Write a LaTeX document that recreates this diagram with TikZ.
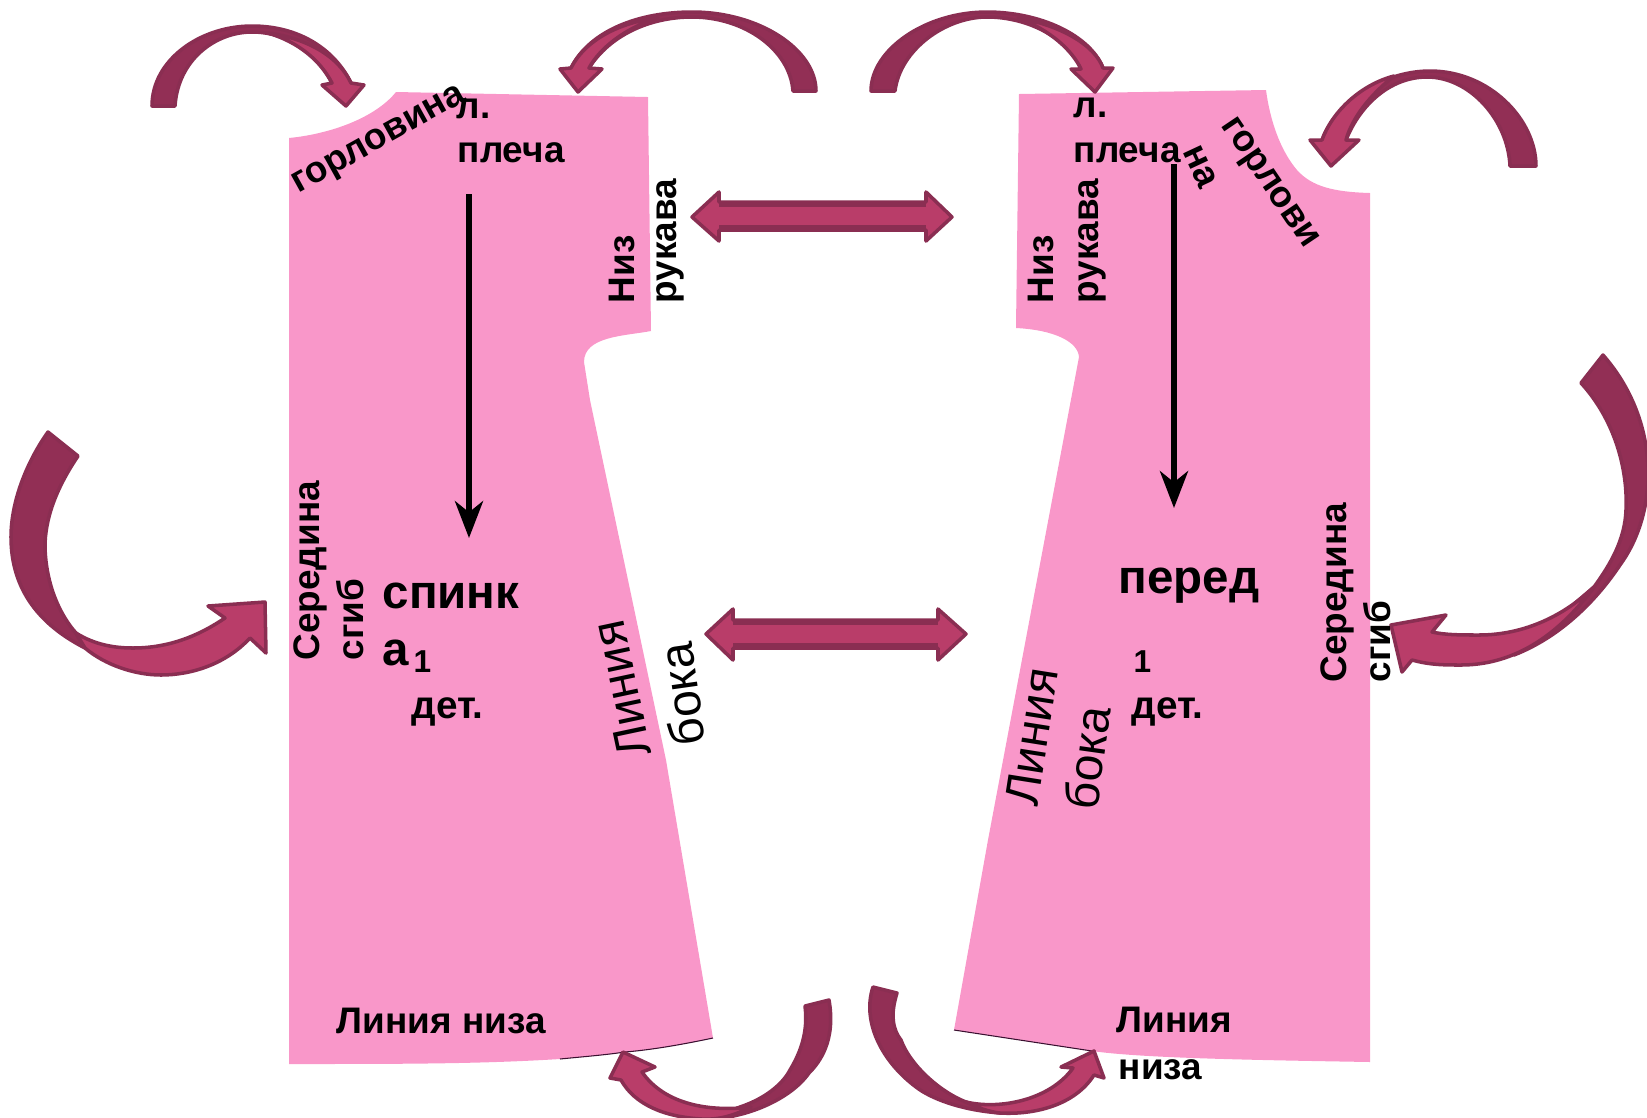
\documentclass[tikz,border=0pt]{standalone}
\usepackage{fontspec}
\setmainfont{Liberation Sans}
\usetikzlibrary{arrows.meta}

\definecolor{paperpink}{HTML}{F997C9}
\definecolor{bentdark}{HTML}{922F55}
\definecolor{bentlight}{HTML}{B93D69}
\definecolor{bentedge}{HTML}{8A2E52}
\definecolor{cutedge}{HTML}{3A1030}

\tikzset{
  lbl/.style={inner sep=0pt, anchor=base west, font=\bfseries\fontsize{10.5}{12}\selectfont},
  lblmid/.style={lbl, font=\bfseries\fontsize{11}{13}\selectfont},
  lblbig/.style={lbl, font=\bfseries\fontsize{13.5}{15}\selectfont},
  lblsmall/.style={lbl, font=\bfseries\fontsize{9}{10}\selectfont},
  lblthin/.style={lbl, font=\fontsize{13.7}{15}\selectfont},
  paper/.style={fill=paperpink},
  bentback/.style={fill=bentdark, draw=bentedge, line width=1pt, line join=round},
  bentfront/.style={fill=bentlight, draw=bentedge, line width=1pt, line join=round},
  stripe/.style={fill=bentedge},
  grainline/.style={line width=1.55pt, -{Stealth[length=10.5pt,width=8pt,inset=3.2pt]}},
}

\begin{document}
\begin{tikzpicture}[x=0.01cm, y=-0.01cm]
  \useasboundingbox (0,0) rectangle (1647,1117);
  \clip (0,0) rectangle (1647,1117);

  % back piece
  \fill[paper] (289,138) .. controls (330,134) and (375,118) .. (396,92) -- (648,97)
    -- (651,331) .. controls (625,336) and (584,336) .. (584,362)
    -- (590,400) -- (666,760) -- (713,1038)
    .. controls (680,1045) and (650,1050) .. (625,1052) .. controls (605,1055) and (580,1057) .. (560,1059)
    .. controls (480,1064) and (400,1064) .. (289,1064) -- cycle;
  \draw[cutedge, line width=0.3pt] (713,1038) .. controls (680,1045) and (650,1050) .. (625,1052)
    .. controls (605,1055) and (580,1057) .. (560,1059);

  % front piece
  \fill[paper] (1019,94) -- (1266,90) .. controls (1270,120) and (1280,150) .. (1297,170)
    .. controls (1312,187) and (1335,192) .. (1370,193) -- (1370,1062)
    .. controls (1250,1060) and (1140,1058) .. (1092,1051) -- (954,1030)
    -- (988,840) -- (1079,357) .. controls (1078,342) and (1055,330) .. (1016,328) -- cycle;
  \draw[cutedge, line width=0.3pt] (954,1030) -- (1092,1051);

  % top left
  \draw[bentback] (152,106) .. controls (152,60) and (200,26) .. (252,26)
    .. controls (300,26) and (335,50) .. (351,83) -- (332,83)
    .. controls (315,50) and (285,32) .. (252,32) .. controls (215,32) and (178,60) .. (175,106) -- cycle;
  \draw[bentfront] (268,33) .. controls (305,38) and (338,55) .. (351,83) -- (364,85) -- (346,106) -- (322,85) -- (332,83)
    .. controls (320,60) and (298,42) .. (268,33) -- cycle;

  % top middle left
  \draw[bentback] (816,91) .. controls (816,50) and (760,12) .. (692,12)
    .. controls (640,12) and (590,30) .. (571,68) -- (589,68)
    .. controls (610,35) and (650,17) .. (692,17) .. controls (745,17) and (790,50) .. (793,91) -- cycle;
  \draw[bentfront] (658,18) .. controls (620,22) and (585,40) .. (571,68) -- (560,69) -- (578,92) -- (602,69) -- (589,68)
    .. controls (600,48) and (625,28) .. (658,18) -- cycle;

  % top middle right
  \draw[bentback] (871,91) .. controls (871,50) and (925,12) .. (987,12)
    .. controls (1040,12) and (1090,35) .. (1103,68) -- (1081,69)
    .. controls (1070,40) and (1030,17) .. (987,17) .. controls (945,17) and (900,50) .. (895,91) -- cycle;
  \draw[bentfront] (1018,18) .. controls (1060,25) and (1095,45) .. (1103,68) -- (1113,68) -- (1095,92) -- (1071,69) -- (1081,69)
    .. controls (1072,50) and (1050,30) .. (1018,18) -- cycle;

  % top right
  \draw[bentback] (1536,166) .. controls (1536,120) and (1490,71) .. (1430,71)
    .. controls (1380,71) and (1335,105) .. (1322,140) -- (1346,140)
    .. controls (1360,105) and (1390,77) .. (1427,77) .. controls (1470,77) and (1508,120) .. (1510,166) -- cycle;
  \draw[bentfront] (1394,76) .. controls (1360,85) and (1332,112) .. (1322,140) -- (1310,140) -- (1331,166) -- (1359,140) -- (1346,140)
    .. controls (1352,118) and (1370,95) .. (1394,76) -- cycle;

  % left big
  \draw[bentback] (48,432) -- (78,456) .. controls (55,490) and (45,520) .. (45,547)
    .. controls (46,585) and (60,615) .. (76,633) -- (85,648)
    .. controls (40,625) and (11,590) .. (11,537) .. controls (11,500) and (28,460) .. (48,432) -- cycle;
  \draw[bentfront] (76,633) .. controls (95,645) and (115,648) .. (133,648)
    .. controls (170,648) and (200,635) .. (225,618) -- (208,606) -- (265,602) -- (266,653) -- (250,638)
    .. controls (225,665) and (190,675) .. (161,675) .. controls (135,675) and (105,665) .. (85,648) -- cycle;

  % right big
  \draw[bentback] (1603,355) -- (1581,383) .. controls (1615,420) and (1628,470) .. (1626,510)
    .. controls (1625,540) and (1610,565) .. (1594,587) -- (1514,655)
    .. controls (1565,635) and (1600,595) .. (1620,565) .. controls (1660,510) and (1660,420) .. (1603,355) -- cycle;
  \draw[bentfront] (1594,587) .. controls (1565,615) and (1525,635) .. (1479,635)
    .. controls (1462,635) and (1445,635) .. (1432,632) -- (1446,615) -- (1391,625) -- (1402,672) -- (1412,660)
    .. controls (1430,665) and (1445,665) .. (1461,665) .. controls (1510,665) and (1555,640) .. (1594,587) -- cycle;

  % bottom left
  \draw[bentback] (805,1006) -- (829,1000) .. controls (836,1040) and (820,1062) .. (809,1073)
    .. controls (790,1100) and (745,1118) .. (709,1119) -- (740,1107)
    .. controls (770,1097) and (785,1080) .. (790,1070) .. controls (802,1050) and (808,1030) .. (805,1006) -- cycle;
  \draw[bentfront] (751,1107) .. controls (710,1112) and (665,1105) .. (642,1072) -- (655,1067) -- (623,1052) -- (610,1078) -- (621,1080)
    .. controls (635,1105) and (665,1117) .. (702,1119) .. controls (720,1120) and (735,1115) .. (751,1107) -- cycle;

  % bottom right
  \draw[bentback] (873,987) -- (897,993) .. controls (890,1015) and (893,1030) .. (901,1040)
    .. controls (910,1065) and (940,1092) .. (966,1102) -- (1000,1113)
    .. controls (960,1110) and (930,1098) .. (916,1087) .. controls (880,1060) and (862,1020) .. (873,987) -- cycle;
  \draw[bentfront] (966,1102) .. controls (1000,1110) and (1050,1100) .. (1073,1068) -- (1061,1067) -- (1094,1051) -- (1104,1078) -- (1094,1075)
    .. controls (1075,1105) and (1035,1115) .. (1000,1113) .. controls (990,1112) and (978,1108) .. (966,1102) -- cycle;

  % straight arrows in the middle
  \draw[bentfront] (692,217) -- (719,192) -- (719,202) -- (926,202) -- (926,192) -- (952,217)
    -- (926,241) -- (926,230) -- (719,230) -- (719,241) -- cycle;
  \fill[stripe] (719,202) rectangle (926,207);
  \fill[stripe] (719,225) rectangle (926,230);
  \draw[bentfront] (706,634) -- (733,609) -- (733,620) -- (938,620) -- (938,609) -- (966,634)
    -- (938,660) -- (938,648) -- (733,648) -- (733,660) -- cycle;
  \fill[stripe] (733,620) rectangle (938,625);
  \fill[stripe] (733,643) rectangle (938,648);

  % grain lines
  \coordinate (backtop) at (469,194);
  \coordinate (backtip) at (469,538);
  \coordinate (fronttop) at (1174,164);
  \coordinate (fronttip) at (1174,508);
  \draw[grainline] (backtop) -- (backtip);
  \draw[grainline] (fronttop) -- (fronttip);

  % back labels
  \node[lbl, rotate=29] (backneck) at (298,194) {горловина};
  \node[lbl] (backshoulder) at (456,118) {л.};
  \node[lbl] (backshouldertwo) at (457,162) {плеча};
  \node[lbl, rotate=90] (backsleeve) at (634,304) {Низ};
  \node[lbl, rotate=90] (backsleevetwo) at (676,304) {рукава};
  \node[lbl, rotate=90] (backmiddle) at (319,661) {Середина};
  \node[lbl, rotate=90] (backfold) at (363,661) {сгиб};
  \node[lblbig] (backname) at (382,608) {спинк};
  \node[lblbig] (backnametwo) at (382,665) {а};
  \node[lblsmall] (backcount) at (413,672) {1};
  \node[lblmid] (backpieces) at (411,718) {дет.};
  \node[lblthin, rotate=102] (backside) at (652,754) {Линия};
  \node[lblthin, rotate=98] (backsidetwo) at (706,744) {бока};
  \node[lbl] (backhem) at (336,1033) {Линия низа};

  % front labels
  \node[lbl] (frontshoulder) at (1073,117) {л.};
  \node[lbl] (frontshouldertwo) at (1073,162) {плеча};
  \node[lbl, rotate=-65, anchor=center] (frontneck) at (1200,167) {на};
  \node[lbl, rotate=-56, anchor=center] (frontnecktwo) at (1268,184) {горлови};
  \node[lbl, rotate=90] (frontsleeve) at (1053,304) {Низ};
  \node[lbl, rotate=90] (frontsleevetwo) at (1098,304) {рукава};
  \node[lblbig] (frontname) at (1118,593) {перед};
  \node[lblsmall] (frontcount) at (1133,672) {1};
  \node[lblmid] (frontpieces) at (1131,718) {дет.};
  \node[lbl, rotate=90] (frontmiddle) at (1346,683) {Середина};
  \node[lbl, rotate=90] (frontfold) at (1390,683) {сгиб};
  \node[lblthin, rotate=81] (frontside) at (1037,808) {Линия};
  \node[lblthin, rotate=82] (frontsidetwo) at (1097,812) {бока};
  \node[lbl] (fronthem) at (1116,1032) {Линия};
  \node[lbl] (fronthemtwo) at (1118,1079) {низа};
\end{tikzpicture}
\end{document}
